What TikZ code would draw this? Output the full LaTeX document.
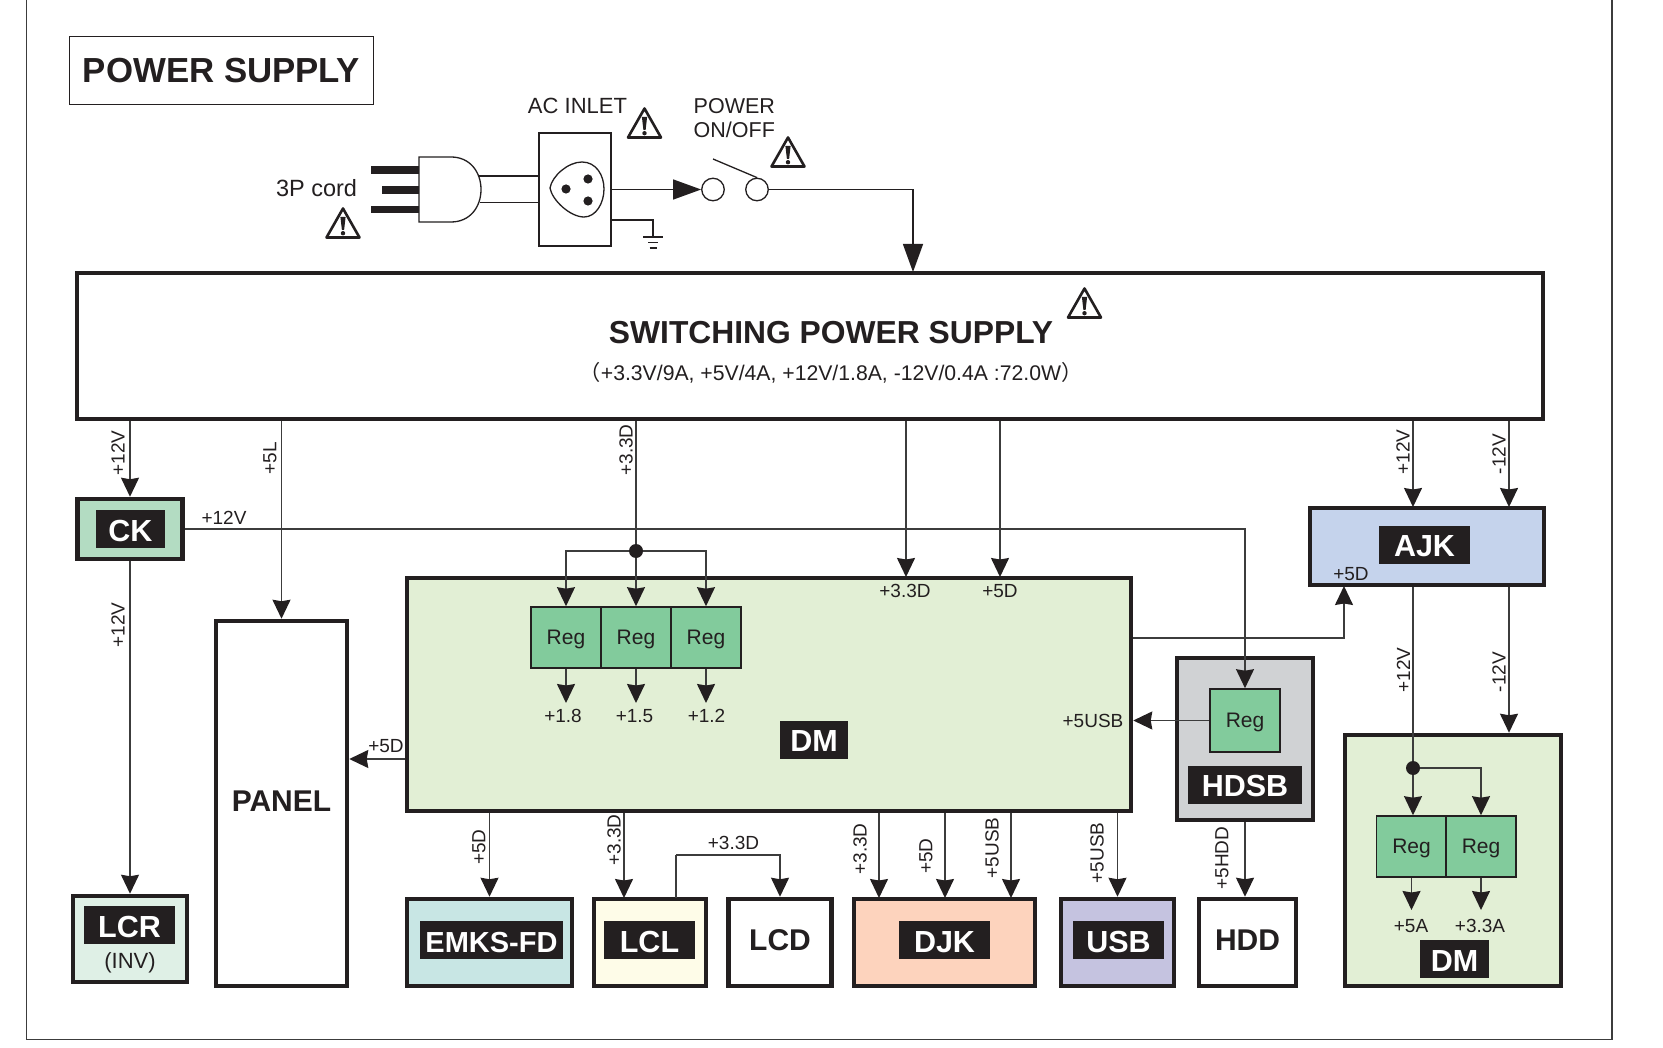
\documentclass[tikz,border=0pt]{standalone}
\usepackage{fontspec}
\setmainfont{Liberation Sans}
\newfontfamily\cjkparen{Noto Sans CJK JP}
\usetikzlibrary{arrows.meta}
\definecolor{ink}{HTML}{231F20}
\definecolor{wire}{HTML}{3C3C3C}
\definecolor{ckfill}{HTML}{B3DCC2}
\definecolor{lcrfill}{HTML}{DFF0E6}
\definecolor{dmfill}{HTML}{E2EFD5}
\definecolor{regfill}{HTML}{82CB9C}
\definecolor{ajkfill}{HTML}{C5D3EC}
\definecolor{hdsbfill}{HTML}{D0D2D4}
\definecolor{emksfill}{HTML}{C8E6E4}
\definecolor{lclfill}{HTML}{FEFCE8}
\definecolor{djkfill}{HTML}{FDD3BD}
\definecolor{usbfill}{HTML}{C5C3E0}
\newcommand{\fs}[1]{\fontsize{#1}{#1}\selectfont}
\tikzset{
  box/.style={draw=ink,line width=4.5pt,rectangle,inner sep=0pt,text=ink},
  regbox/.style={draw=ink,line width=1.6pt,rectangle,inner sep=0pt,fill=regfill,text=ink,font=\fs{21},minimum height=61pt,text depth=0pt},
  tag/.style={fill=ink,text=white,inner sep=0pt,font=\bfseries\fs{30.5},minimum height=38pt,text height=24pt,text depth=0pt},
  bold/.style={font=\bfseries\fs{30},text=ink,inner sep=0pt},
  lbl/.style={font=\fs{19},text=ink,inner sep=0pt},
  top/.style={font=\fs{22},text=ink,inner sep=0pt},
  vlbl/.style={lbl,rotate=90},
  conn/.style={draw=wire,line width=1.4pt},
  arr/.style={conn,-{Stealth[length=19pt,width=18pt,inset=1.5pt,color=ink]}},
  bigarr/.style={conn,draw=ink,-{Triangle[length=28pt,width=20pt,color=ink]}},
  dot/.style={circle,fill=ink,inner sep=0pt,minimum size=14pt},
  pin/.style={circle,draw=ink,line width=1.3pt,fill=white,inner sep=0pt,minimum size=22.5pt},
  thin line/.style={draw=ink,line width=1.3pt},
  warn/.pic={
    \draw[ink,line width=2.6pt,line join=round,fill=white] (-16.5,14.5) -- (0,-14.5) -- (16.5,14.5) -- cycle;
    \fill[ink] (-2.6,-6) -- (2.6,-6) -- (1.1,7) -- (-1.1,7) -- cycle;
    \fill[ink] (0,10.2) circle (2.2);
  }
}
\begin{document}
\begin{tikzpicture}[x=1pt,y=-1pt]
\useasboundingbox (0,0) rectangle (1663,1048);
\fill[white] (0,0) rectangle (1663,1048);
% outer frame
\coordinate (fa) at (26.5,0);
\coordinate (fb) at (26.5,1039.5);
\coordinate (fc) at (1612,1039.5);
\coordinate (fd) at (1612,0);
\draw[draw=wire,line width=1.3pt] (fa) -- (fb) -- (fc) -- (fd);
% title
\node[draw=ink,line width=1.1pt,minimum width=304pt,minimum height=68pt,font=\bfseries\fs{34.8},text=ink,inner sep=0pt] (title) at (221.5,70.5) {POWER SUPPLY};
% plug
\fill[ink] (371,166) rectangle (419,174);
\fill[ink] (382,186) rectangle (419,194);
\fill[ink] (371,206) rectangle (419,213.5);
\draw[thin line,fill=white] (419,157) -- (451,157) .. controls (470,157) and (481,172) .. (481,189.5) .. controls (481,207) and (470,222) .. (451,222) -- (419,222) -- cycle;
\node[draw=ink,line width=1.3pt,minimum width=72pt,minimum height=113pt,inner sep=0pt] (inlet) at (575,189.5) {};
\coordinate (ca) at (479,176);
\coordinate (cb) at (480,202.5);
\draw[thin line] (ca) -- (ca -| inlet.west);
\draw[thin line] (cb) -- (cb -| inlet.west);
\draw[thin line] (550,188) .. controls (552,176) and (568,162) .. (582,162) .. controls (596,162) and (604,175) .. (604,189) .. controls (604,203) and (596,217) .. (584,217) .. controls (570,217) and (552,200) .. (550,188) -- cycle;
\fill[ink] (566,189) circle (4.6);
\fill[ink] (588,179) circle (4.6);
\fill[ink] (588,201) circle (4.6);
% ground
\coordinate (ga) at (611,220);
\coordinate (gb) at (653,237);
\draw[thin line] (ga) -| (gb);
\draw[thin line] (643,237) -- (663,237);
\draw[thin line] (648,242.5) -- (658,242.5);
\draw[thin line] (649.5,248) -- (656.5,248);
% switch
\node[pin] (pa) at (713,189.5) {};
\node[pin] (pb) at (757,189.5) {};
\coordinate (sw) at (713,159);
\draw[thin line] (sw) -- (pb.north);
\draw[bigarr] (inlet.east) -- (pa.west);
% texts top
\node[top,font=\fs{23.5}] (t3p) at (316.5,188) {3P cord};
\node[top] (tac) at (577.5,105.5) {AC INLET};
\node[top,align=left,anchor=west,font=\fs{21.5}] (tpow) at (693.5,118) {POWER\\[2.5pt]ON/OFF};
\pic at (343,223) {warn};
\pic at (644.5,123) {warn};
\pic at (788,152) {warn};
% SMPS
\node[box,fill=white,minimum width=1466pt,minimum height=146pt] (smps) at (810,346) {};
\pic at (1084.5,303) {warn};
\node[bold,font=\bfseries\fs{31.8}] (smpst) at (831,333) {SWITCHING POWER SUPPLY};
\node[lbl,font=\fs{21.2}] (smpss) at (831,373) {{\cjkparen （}+3.3V/9A, +5V/4A, +12V/1.8A, -12V/0.4A :72.0W{\cjkparen ）}};
\coordinate (swin) at (913,272);
\draw[bigarr] (pb.east) -| (swin);
% boxes
\node[box,fill=ckfill,minimum width=105pt,minimum height=60pt] (ck) at (130,529) {};
\node[box,fill=lcrfill,minimum width=114pt,minimum height=86pt] (lcr) at (130,939) {};
\node[box,fill=white,minimum width=131pt,minimum height=365pt] (panel) at (281.5,803.5) {};
\node[box,fill=dmfill,minimum width=724pt,minimum height=233pt] (dm) at (769,694.5) {};
\node[box,fill=ajkfill,minimum width=234pt,minimum height=77pt] (ajk) at (1427,546.5) {};
\node[box,fill=hdsbfill,minimum width=136pt,minimum height=162pt] (hdsb) at (1245,739) {};
\node[box,fill=dmfill,minimum width=216pt,minimum height=251pt] (dmb) at (1453,860.5) {};
\node[box,fill=emksfill,minimum width=165pt,minimum height=87pt] (emks) at (489.5,942.5) {};
\node[box,fill=lclfill,minimum width=112pt,minimum height=87pt] (lcl) at (650,942.5) {};
\node[box,fill=white,minimum width=103pt,minimum height=87pt] (lcd) at (780,942.5) {};
\node[box,fill=djkfill,minimum width=181pt,minimum height=87pt] (djk) at (944.5,942.5) {};
\node[box,fill=usbfill,minimum width=113pt,minimum height=87pt] (usb) at (1117.5,942.5) {};
\node[box,fill=white,minimum width=97pt,minimum height=87pt] (hdd) at (1247.5,942.5) {};
% regs
\node[regbox,minimum width=70.5pt] (ra) at (566,637.5) {Reg};
\node[regbox,minimum width=70.5pt] (rb) at (636,637.5) {Reg};
\node[regbox,minimum width=70.5pt] (rc) at (706,637.5) {Reg};
\node[regbox,minimum width=70pt,minimum height=63pt] (rd) at (1245,720.5) {Reg};
\node[regbox,minimum width=70pt] (re) at (1411.5,846.5) {Reg};
\node[regbox,minimum width=70pt] (rf) at (1481,846.5) {Reg};
% tags
\node[tag,minimum width=69pt] (tck) at (130.5,529) {CK};
\node[tag,minimum width=91pt] (tlcr) at (129.5,925) {LCR};
\node[tag,minimum width=143pt,font=\bfseries\fs{29}] (temks) at (491.5,940) {EMKS-FD};
\node[tag,minimum width=91pt] (tlcl) at (649.5,940) {LCL};
\node[tag,minimum width=91pt] (tdjk) at (944.5,940) {DJK};
\node[tag,minimum width=91pt] (tusb) at (1118.5,940) {USB};
\node[tag,minimum width=114pt] (thdsb) at (1245,784.5) {HDSB};
\node[tag,minimum width=91pt] (tajk) at (1424.5,544.5) {AJK};
\node[tag,minimum width=68pt] (tdm) at (814,739.5) {DM};
\node[tag,minimum width=69pt] (tdmb) at (1454.5,959) {DM};
\node[bold] (tpanel) at (281.5,801) {PANEL};
\node[bold] (tlcd) at (780,940) {LCD};
\node[bold] (thdd) at (1247.5,940) {HDD};
\node[top] (tinv) at (130,963) {(INV)};
% junctions and free ends
\node[dot] (ja) at (636,551) {};
\node[dot] (jb) at (1413,768) {};
\coordinate (xd) at (906,577);
\coordinate (xe) at (1000,577);
\coordinate (xa) at (1413,507);
\coordinate (xb) at (1509,507);
\coordinate (xl) at (624,898);
\coordinate (xo) at (676,898);
\coordinate (yl) at (0,855);
\coordinate (xf) at (879,898);
\coordinate (xg) at (945,898);
\coordinate (xh) at (1011,898);
\coordinate (yo) at (0,638);
\coordinate (xi) at (1344,586);
\coordinate (oa) at (566,703);
\coordinate (ob) at (636,703);
\coordinate (oc) at (706,703);
\coordinate (oe) at (1411.5,910);
\coordinate (of) at (1481,910);
% connectors
\draw[arr] (smps.south -| ck.north) -- (ck.north);
\draw[arr] (ck.south) -- (lcr.north);
\draw[arr] (smps.south -| panel.north) -- (panel.north);
\draw[conn] (smps.south -| ja) -- (ja);
\draw[arr] (ja) -- (rb.north);
\draw[arr] (ja) -| (ra.north);
\draw[arr] (ja) -| (rc.north);
\draw[arr] (ra.south) -- (oa);
\draw[arr] (rb.south) -- (ob);
\draw[arr] (rc.south) -- (oc);
\draw[arr] (smps.south -| xd) -- (xd);
\draw[arr] (smps.south -| xe) -- (xe);
\draw[arr] (ck.east) -| (rd.north);
\draw[arr] (rd.west) -- (rd.west -| dm.east);
\draw[arr] (dm.east |- yo) -| (xi);
\draw[arr] (dm.west |- 0,759) -- (panel.east |- 0,759);
\draw[arr] (smps.south -| xa) -- (xa);
\draw[arr] (smps.south -| xb) -- (xb);
\draw[conn] (ajk.south -| jb) -- (jb);
\draw[arr] (jb) -- (jb |- re.north);
\draw[arr] (jb) -| (rf.north);
\draw[arr] (ajk.south -| xb) -- (xb |- dmb.north);
\draw[arr] (re.south -| oe) -- (oe);
\draw[arr] (rf.south) -- (of);
\draw[arr] (dm.south -| emks.north) -- (emks.north);
\draw[arr] (dm.south -| xl) -- (xl);
\draw[conn] (xo) -- (xo |- yl);
\draw[arr] (xo |- yl) -| (lcd.north);
\draw[arr] (dm.south -| xf) -- (xf);
\draw[arr] (dm.south -| xg) -- (xg);
\draw[arr] (dm.south -| xh) -- (xh);
\draw[arr] (dm.south -| usb.north) -- (usb.north);
\draw[arr] (hdsb.south) -- (hdsb.south |- hdd.north);
% small labels
\node[vlbl] (la) at (118,453) {+12V};
\node[vlbl] (lb) at (270,458) {+5L};
\node[vlbl] (lc) at (626,450) {+3.3D};
\node[vlbl] (ld) at (118,625) {+12V};
\node[vlbl] (le) at (1403,452) {+12V};
\node[vlbl] (lf) at (1499,454) {-12V};
\node[vlbl] (lg) at (1403.5,670) {+12V};
\node[vlbl] (lh) at (1499,672) {-12V};
\node[vlbl] (li) at (479,847) {+5D};
\node[vlbl] (lj) at (614,840) {+3.3D};
\node[vlbl] (lk) at (860,849) {+3.3D};
\node[vlbl] (ll) at (926,856) {+5D};
\node[vlbl] (lm) at (992,848) {+5USB};
\node[vlbl] (ln) at (1097,853) {+5USB};
\node[vlbl] (lo) at (1222,858) {+5HDD};
\node[lbl] (lp) at (224,518) {+12V};
\node[lbl] (lq) at (386,746) {+5D};
\node[lbl] (lr) at (733.5,843) {+3.3D};
\node[lbl] (ls) at (905,591) {+3.3D};
\node[lbl] (lt) at (1000,591) {+5D};
\node[lbl] (lu) at (1093,721) {+5USB};
\node[lbl] (lv) at (1351,574) {+5D};
\node[lbl] (lw) at (563,716) {+1.8};
\node[lbl] (lx) at (634.5,716) {+1.5};
\node[lbl] (ly) at (706.5,716) {+1.2};
\node[lbl] (lz) at (1411,926) {+5A};
\node[lbl] (lza) at (1480,926) {+3.3A};
\end{tikzpicture}
\end{document}
